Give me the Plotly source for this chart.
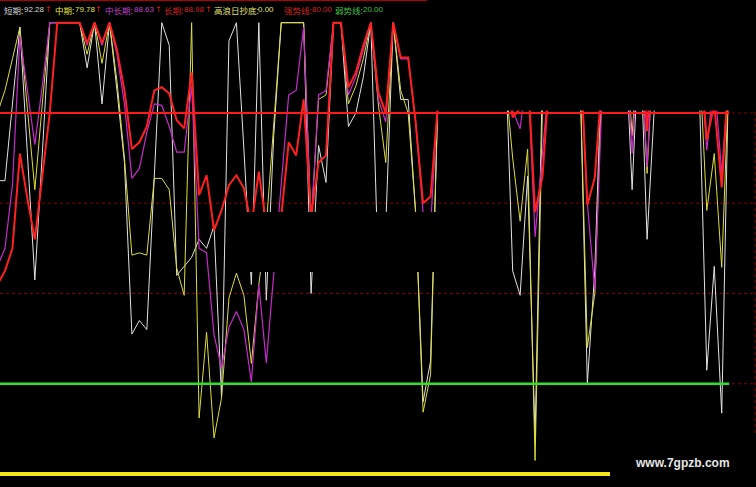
import plotly.graph_objects as go

# ---------------- data ----------------
x_index = list(range(-1, 98))

short_term = [
    65, 65, 82, 99, 71, 43, 71, 100, 100, 100, 100, 100,
    90, 100, 82, 100, 85, 69, 31, 34, 32, 66,
    100, 95, 44, 46, 48, 52, 50, 55, 17, 96,
    100, 72, 42, 100, 38.5, 75, 100, 100, 100, 100,
    40, 72.8, 64.6, 100, 100, 77, 80, 88, 100, 45,
    55, 100, 83, 83, 58, 16, 25, 84, 100, 100,
    100, 100, 100, 100, 100, 100, 95, 45, 39.6, 66,
    8, 90, 100, 100, 100, 100, 90, 20, 45, 95,
    100, 100, 100, 63, 100, 52, 82, 100, 100, 100,
    100, 100, 85, 23, 46, 13.5, 95,
]

mid_term = [
    80, 85, 92, 99, 81, 63, 82, 100, 100, 100, 100, 100,
    93, 100, 91, 100, 87, 70, 48.5, 49, 48.5, 65.5,
    65.5, 63, 45.6, 39.6, 100, 12.4, 31.4, 8, 16.8, 39,
    44.5, 39.6, 24.5, 42, 55, 78, 100, 100, 100, 100,
    55, 83, 84, 100, 100, 82, 86, 92, 100, 82,
    69, 100, 85, 80, 58, 13.7, 22, 85, 100, 100,
    100, 100, 100, 100, 100, 100, 88, 70, 56, 72,
    3, 82, 100, 100, 100, 100, 90, 28, 40, 90,
    100, 100, 100, 75, 100, 66.6, 100, 100, 100, 100,
    100, 100, 92, 58.4, 71, 45.8, 90,
]

mid_long_term = [
    46, 50, 64, 97, 85, 73, 86, 100, 100, 100, 100, 100,
    95, 100, 95, 100, 93, 82, 65.5, 67.7, 75.7, 82,
    81.7, 77, 71.3, 71.3, 86, 50, 49, 30.8, 23.5, 32.5,
    36, 32, 20.4, 42, 24.6, 44.7, 64, 84, 85, 99,
    55, 84, 85, 100, 100, 84, 88, 94, 100, 83,
    78, 100, 92, 92, 78, 58, 55, 83, 100, 100,
    100, 100, 100, 100, 100, 100, 95, 80.5, 76.5, 90,
    52.5, 72, 90, 100, 100, 100, 95, 60, 40.7, 85,
    100, 100, 100, 71, 100, 68, 100, 100, 100, 100,
    100, 100, 95, 71.7, 88, 66.6, 90,
]

long_term = [
    42, 45, 50, 71, 61, 52, 66, 80, 100, 100, 100, 100,
    95.5, 100, 95.5, 100, 94, 85, 72, 73.5, 77, 85,
    85.7, 84.3, 78.4, 76.6, 89, 61.8, 66.2, 54, 58.4, 64,
    66.2, 63.3, 55, 67, 55, 50, 57, 73.5, 70.6, 83,
    57, 69, 70.6, 100, 100, 85.7, 89, 95, 100, 84.6,
    80, 100, 92.3, 92.3, 78, 60, 61.5, 82, 100, 100,
    100, 100, 100, 100, 100, 100, 90, 79, 81, 90,
    58, 66, 90, 100, 100, 100, 95, 59.6, 65.7, 88,
    100, 100, 100, 82, 100, 76, 100, 100, 100, 100,
    100, 100, 95, 74, 82, 63.5, 90,
]

bottom_value = 0.0      # 高浪日抄底
strong_value = 80.0     # 强势线
weak_value = 20.0       # 弱势线
grid_levels = [80, 60, 40, 20]

legend_labels = ["短期:", "中期:", "中长期:", "长期:", "高浪日抄底:", "强势线:", "弱势线:"]
legend_values = ["92.28", "79.78", "88.63", "88.98", "0.00", "80.00", "20.00"]
legend_colors = ["#d8d8d8", "#e4e440", "#c040c8", "#d42020", "#e4e470", "#d42020", "#40c040"]
legend_label_px = [2, 53, 103, 162, 212, 282, 333]
legend_value_px = [22, 73, 132, 182, 256, 310, 361]
arrow_px = [48, 98, 158, 208]
watermark = "www.7gpzb.com"

W, H = 756, 487

fig = go.Figure()

series = [
    (short_term, "#e2e2e2", 1.0),
    (mid_term, "#dede3a", 1.0),
    (mid_long_term, "#c42cc8", 1.2),
    (long_term, "#ff2020", 2.0),
]
for vals, col, w in series:
    fig.add_trace(go.Scatter(x=x_index, y=vals, mode="lines",
                             line=dict(color=col, width=w), hoverinfo="skip"))

n = len(x_index)
fig.add_trace(go.Scatter(x=x_index, y=[bottom_value] * n, mode="lines",
                         line=dict(color="#f4e41c", width=4), hoverinfo="skip"))
fig.add_trace(go.Scatter(x=x_index, y=[strong_value] * n, mode="lines",
                         line=dict(color="#ff1a1a", width=2), hoverinfo="skip"))
fig.add_trace(go.Scatter(x=x_index, y=[weak_value] * n, mode="lines",
                         line=dict(color="#2ee02e", width=2.5), hoverinfo="skip"))

shapes = []
for lv in grid_levels:
    shapes.append(dict(type="line", xref="paper", yref="y", x0=0, x1=1, y0=lv, y1=lv,
                       line=dict(color="#8a0000", width=1, dash="dot"), layer="below"))
# right frame
shapes.append(dict(type="line", xref="paper", yref="paper", x0=755 / W, x1=755 / W, y0=0, y1=1,
                   line=dict(color="#8a0000", width=1, dash="dot"), layer="below"))


def pbox(x0, y0, x1, y1):
    return dict(type="rect", xref="paper", yref="paper", x0=x0 / W, x1=x1 / W,
                y0=1 - y1 / H, y1=1 - y0 / H, fillcolor="black",
                line=dict(width=0), layer="above")


# occluding black panels
shapes.append(pbox(232, 212, 509, 272))
shapes.append(pbox(427, 0, W, 110.5))
shapes.append(pbox(610, 435, W, H))
# top frame line
shapes.append(dict(type="line", xref="paper", yref="paper", x0=0, x1=427 / W, y0=1, y1=1,
                   line=dict(color="#b00000", width=2), layer="above"))

annotations = []
for lab, val, col, lpx, vpx in zip(legend_labels, legend_values, legend_colors,
                                   legend_label_px, legend_value_px):
    annotations.append(dict(x=lpx / W, y=1 - 10 / H, xref="paper", yref="paper",
                            xanchor="left", yanchor="middle", showarrow=False,
                            text=lab,
                            font=dict(family="Noto Sans CJK SC", size=8.5, color=col)))
    annotations.append(dict(x=vpx / W, y=1 - 10 / H, xref="paper", yref="paper",
                            xanchor="left", yanchor="middle", showarrow=False,
                            text=val,
                            font=dict(family="Liberation Sans", size=8, color=col)))
for px in arrow_px:
    annotations.append(dict(x=px / W, y=1 - 10 / H, xref="paper", yref="paper",
                            xanchor="center", yanchor="middle", showarrow=False,
                            text="↑", font=dict(family="DejaVu Sans", size=8, color="#d42020")))
annotations.append(dict(x=682.5 / W, y=1 - 463 / H, xref="paper", yref="paper",
                        xanchor="center", yanchor="middle", showarrow=False,
                        text=f"<b>{watermark}</b>",
                        font=dict(family="Liberation Sans", size=12, color="#e6e6e6")))

fig.update_layout(
    width=W, height=H, margin=dict(l=0, r=0, t=0, b=0),
    paper_bgcolor="black", plot_bgcolor="black", showlegend=False,
    xaxis=dict(range=[-0.667, 100.59], visible=False, fixedrange=True),
    yaxis=dict(range=[-2.88, 105.03], visible=False, fixedrange=True),
    shapes=shapes, annotations=annotations,
)

fig.write_html("out.html", config={"displayModeBar": False},
               post_script="document.body.style.margin='0';document.body.style.overflow='hidden';")
